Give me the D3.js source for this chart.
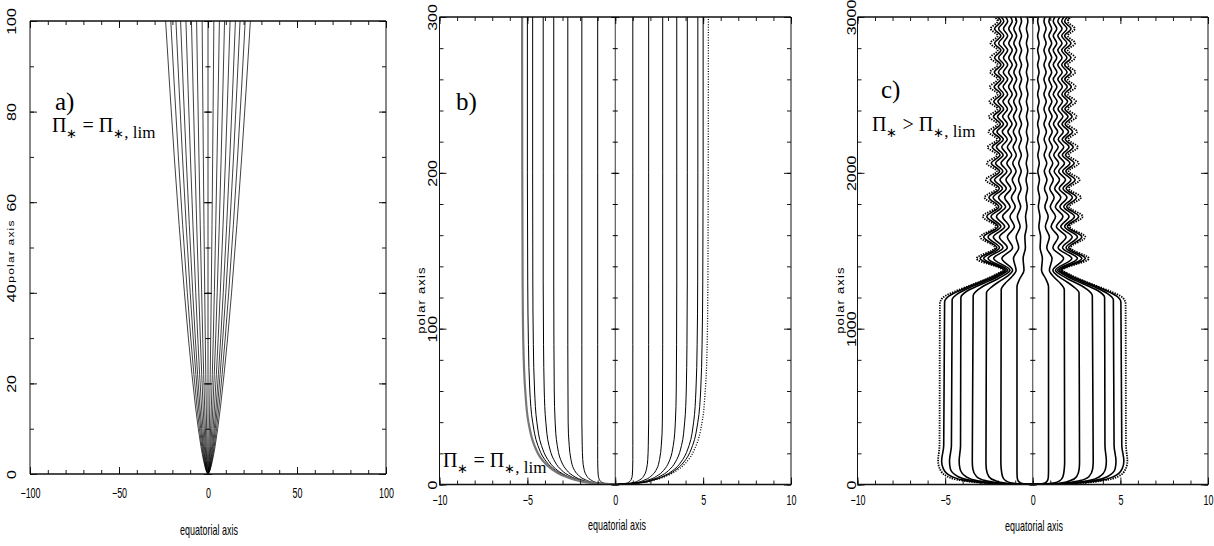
<!DOCTYPE html>
<html>
<head>
<meta charset="utf-8">
<script src="https://cdn.jsdelivr.net/npm/d3@7/dist/d3.min.js"></script>
<style>
html, body { margin: 0; padding: 0; background: #fff; }
svg { display: block; }
</style>
</head>
<body>
<svg id="fig" width="1214" height="546"></svg>
<script>
// ---------------- Panel a: field lines for Pi* = Pi*,lim (wide view) ----------------
const aHeights = [0, 0.5, 1.5, 3, 6, 10, 15, 22, 30, 40, 55, 70, 85, 100];
// half-width of each line (right-hand branch) at the heights above
const aHalfWidths = [
  [0, 0.11, 0.22, 0.35, 0.54, 0.76, 0.98, 1.25, 1.53, 1.83, 2.25, 2.63, 2.97, 3.3],
  [0, 0.22, 0.44, 0.68, 1.06, 1.47, 1.9, 2.43, 2.96, 3.56, 4.36, 5.09, 5.77, 6.4],
  [0, 0.31, 0.63, 0.99, 1.53, 2.13, 2.76, 3.52, 4.31, 5.17, 6.34, 7.4, 8.38, 9.3],
  [0, 0.42, 0.84, 1.31, 2.05, 2.84, 3.68, 4.7, 5.74, 6.89, 8.46, 9.87, 11.17, 12.4],
  [0, 0.52, 1.05, 1.63, 2.54, 3.53, 4.57, 5.84, 7.13, 8.56, 10.5, 12.26, 13.88, 15.4],
  [0, 0.61, 1.22, 1.91, 2.97, 4.12, 5.35, 6.82, 8.33, 10.0, 12.28, 14.33, 16.22, 18],
  [0, 0.7, 1.42, 2.22, 3.45, 4.79, 6.21, 7.92, 9.68, 11.62, 14.25, 16.64, 18.83, 20.9],
  [0, 0.8, 1.62, 2.52, 3.93, 5.45, 7.07, 9.02, 11.02, 13.23, 16.23, 18.94, 21.44, 23.8]
];
const aXTicks = [-100, -50, 0, 50, 100];
const aXTickLabels = ["\u2212100", "\u221250", "0", "50", "100"];
const aYTicks = [0, 20, 40, 60, 80, 100];
const aYTickLabels = ["0", "20", "40", "60", "80", "100"];

// ---------------- Panel b: field lines for Pi* = Pi*,lim (jet core) ----------------
const bHeights = [0, 1, 3, 6, 10, 16, 25, 40, 60, 90, 130, 200, 300];
const bHalfWidths = [
  [0, 0.69, 0.90, 0.97, 0.99, 1.0, 1.0, 1.0, 1.0, 1.0, 1.0, 1.0, 1.0],
  [0, 0.94, 1.40, 1.65, 1.78, 1.85, 1.88, 1.90, 1.9, 1.9, 1.9, 1.9, 1.9],
  [0, 1.08, 1.69, 2.10, 2.36, 2.52, 2.62, 2.68, 2.69, 2.7, 2.7, 2.7, 2.7],
  [0, 1.19, 1.91, 2.45, 2.82, 3.11, 3.30, 3.42, 3.47, 3.49, 3.5, 3.5, 3.5],
  [0, 1.26, 2.05, 2.67, 3.13, 3.50, 3.77, 3.95, 4.04, 4.08, 4.1, 4.1, 4.1],
  [0, 1.32, 2.17, 2.85, 3.39, 3.84, 4.20, 4.46, 4.59, 4.66, 4.69, 4.7, 4.7],
  [0, 1.35, 2.22, 2.94, 3.51, 4.01, 4.40, 4.70, 4.86, 4.94, 4.98, 5.0, 5.0],
  [0, 1.37, 2.27, 3.03, 3.63, 4.17, 4.60, 4.94, 5.12, 5.23, 5.27, 5.29, 5.3]
];
const bXTicks = [-10, -5, 0, 5, 10];
const bXTickLabels = ["\u221210", "\u22125", "0", "5", "10"];
const bYTicks = [0, 100, 200, 300];
const bYTickLabels = ["0", "100", "200", "300"];

// ---------------- Panel c: field lines for Pi* > Pi*,lim ----------------
// lower column and shoulder, as [height, half-width]
const cBaseLines = [
  [[0,0],[3,0.45],[10,0.7],[25,0.84],[50,0.89],[100,0.9],[1270,0.9],[1320,0.74]],
  [[0,0],[3,0.7],[10,1.2],[25,1.55],[50,1.72],[100,1.8],[150,1.82],[1250,1.8],[1290,1.58],[1330,1.22]],
  [[0,0],[3,0.9],[10,1.6],[25,2.15],[50,2.5],[100,2.65],[150,2.67],[1230,2.64],[1270,2.32],[1305,1.88],[1335,1.47]],
  [[0,0],[3,1.1],[10,1.9],[25,2.7],[50,3.2],[100,3.42],[150,3.45],[1210,3.4],[1250,3.12],[1285,2.62],[1315,2.07],[1340,1.67]],
  [[0,0],[3,1.3],[10,2.2],[25,3.2],[50,3.8],[100,4.15],[150,4.2],[250,4.12],[1200,4.1],[1240,3.77],[1275,3.12],[1305,2.52],[1335,1.97],[1357,1.63]],
  [[0,0],[3,1.4],[10,2.4],[25,3.5],[50,4.25],[100,4.7],[150,4.75],[250,4.64],[1185,4.6],[1225,4.27],[1265,3.57],[1300,2.82],[1330,2.22],[1355,1.8]],
  [[0,0],[3,1.5],[10,2.6],[25,3.8],[50,4.6],[100,5.1],[150,5.2],[250,5.08],[1170,5.03],[1210,4.77],[1250,4.07],[1290,3.22],[1325,2.47],[1352,1.95]],
  [[0,0],[3,1.6],[10,2.8],[25,4.0],[50,4.85],[100,5.3],[150,5.4],[250,5.32],[1160,5.3],[1200,5.12],[1240,4.42],[1280,3.52],[1320,2.62],[1350,2.07]]
];
// heights of the inward and outward turning points of the wavy section
const cWaveInY  = [1375, 1520, 1655, 1782, 1900, 2010, 2114, 2215, 2313, 2410, 2505, 2600, 2693, 2786, 2879, 2972];
const cWaveOutY = [1450, 1588, 1720, 1842, 1955, 2062, 2165, 2264, 2361, 2457, 2552, 2646, 2739, 2832, 2925, 3018];
// half-widths at the inward turning points, one row per line
const cWaveIn = [
  [0.5, 0.42, 0.35, 0.32, 0.3, 0.29, 0.29, 0.28, 0.28, 0.28, 0.28, 0.28, 0.28, 0.28, 0.28, 0.28],
  [0.95, 0.8, 0.72, 0.69, 0.67, 0.66, 0.65, 0.65, 0.64, 0.64, 0.64, 0.64, 0.64, 0.64, 0.64, 0.64],
  [1.15, 1.15, 1.05, 1.0, 0.97, 0.95, 0.94, 0.93, 0.93, 0.92, 0.92, 0.92, 0.92, 0.92, 0.92, 0.92],
  [1.3, 1.45, 1.35, 1.29, 1.25, 1.22, 1.2, 1.19, 1.18, 1.18, 1.17, 1.17, 1.17, 1.17, 1.17, 1.17],
  [1.42, 1.7, 1.6, 1.55, 1.51, 1.48, 1.46, 1.45, 1.44, 1.44, 1.43, 1.43, 1.43, 1.43, 1.43, 1.43],
  [1.52, 1.9, 1.82, 1.77, 1.73, 1.71, 1.69, 1.68, 1.67, 1.66, 1.66, 1.65, 1.65, 1.65, 1.65, 1.65],
  [1.62, 2.05, 1.98, 1.94, 1.91, 1.89, 1.87, 1.86, 1.85, 1.84, 1.83, 1.83, 1.82, 1.82, 1.82, 1.82],
  [1.72, 2.15, 2.1, 2.08, 2.06, 2.05, 2.04, 2.03, 2.02, 2.01, 2.0, 2.0, 2.0, 2.0, 2.0, 2.0]
];
// half-widths at the outward turning points
const cWaveOut = [
  [0.55, 0.45, 0.41, 0.39, 0.38, 0.37, 0.37, 0.36, 0.36, 0.36, 0.36, 0.36, 0.36, 0.36, 0.36, 0.36],
  [1.1, 0.95, 0.88, 0.84, 0.81, 0.8, 0.79, 0.78, 0.77, 0.77, 0.76, 0.76, 0.76, 0.76, 0.76, 0.76],
  [1.76, 1.45, 1.3, 1.22, 1.17, 1.14, 1.12, 1.11, 1.1, 1.09, 1.09, 1.08, 1.08, 1.08, 1.08, 1.08],
  [2.23, 1.9, 1.72, 1.6, 1.53, 1.48, 1.45, 1.42, 1.4, 1.39, 1.38, 1.38, 1.37, 1.37, 1.37, 1.37],
  [2.55, 2.25, 2.07, 1.95, 1.87, 1.81, 1.77, 1.74, 1.72, 1.7, 1.69, 1.68, 1.67, 1.67, 1.67, 1.67],
  [2.8, 2.55, 2.38, 2.26, 2.18, 2.12, 2.07, 2.04, 2.01, 1.99, 1.97, 1.96, 1.95, 1.95, 1.95, 1.95],
  [3.0, 2.8, 2.62, 2.5, 2.42, 2.36, 2.31, 2.27, 2.24, 2.22, 2.2, 2.19, 2.18, 2.18, 2.18, 2.18],
  [3.2, 3.0, 2.85, 2.75, 2.68, 2.62, 2.57, 2.53, 2.5, 2.47, 2.45, 2.43, 2.42, 2.41, 2.4, 2.4]
];
const cXTicks = [-10, -5, 0, 5, 10];
const cXTickLabels = ["\u221210", "\u22125", "0", "5", "10"];
const cYTicks = [0, 1000, 2000, 3000];
const cYTickLabels = ["0", "1000", "2000", "3000"];

// ---------------- drawing ----------------
const svg = d3.select("#fig");
const defs = svg.append("defs");
const AXIS_FONT = "'Liberation Sans', Arial, Helvetica, sans-serif";
const SERIF = "'Liberation Serif', 'Times New Roman', serif";
const SQUEEZE = 0.64;    // horizontal lettering on the axes is condensed
const ROT_SQUEEZE = 0.8; // rotated lettering on the axes

function linePoints(heights, widths) {
  return heights.map((h, i) => [h, widths[i]]);
}

function wavePoints(k) {
  const pts = cBaseLines[k].slice();
  for (let i = 0; i < cWaveInY.length; i++) {
    pts.push([cWaveInY[i], cWaveIn[k][i]]);
    pts.push([cWaveOutY[i], cWaveOut[k][i]]);
  }
  return pts;
}

function drawPanel(p) {
  const x = d3.scaleLinear().domain(p.xDomain).range([p.box.left, p.box.right]);
  const y = d3.scaleLinear().domain(p.yDomain).range([p.box.bottom, p.box.top]);
  const g = svg.append("g").attr("class", "panel-" + p.id);

  const clipId = "clip-" + p.id;
  defs.append("clipPath").attr("id", clipId).append("rect")
    .attr("x", p.box.left).attr("y", p.box.top)
    .attr("width", p.box.right - p.box.left).attr("height", p.box.bottom - p.box.top);

  const plot = g.append("g").attr("clip-path", `url(#${clipId})`);

  // field lines, drawn as mirrored pairs
  p.lines.forEach((ln, k) => {
    [-1, 1].forEach(side => {
      const st = p.style(k, side);
      const gen = d3.line()
        .x(d => x(side * d[1]))
        .y(d => y(d[0]))
        .curve(d3.curveMonotoneY);
      plot.append("path")
        .datum(ln)
        .attr("d", gen)
        .attr("fill", "none")
        .attr("stroke", st.color)
        .attr("stroke-width", st.width)
        .attr("stroke-dasharray", st.dash || null)
        .attr("stroke-linejoin", "round");
    });
  });

  // central (polar) axis with ticks on both sides
  g.append("line")
    .attr("x1", x(0)).attr("x2", x(0))
    .attr("y1", y(p.yDomain[0])).attr("y2", y(p.yDomain[1]))
    .attr("stroke", "#222").attr("stroke-width", 0.9);
  const minorY = d3.range(p.yDomain[0], p.yDomain[1] + 1e-9, p.yMinor);
  const minorX = d3.range(p.xDomain[0], p.xDomain[1] + 1e-9, p.xMinor);
  g.append("g").attr("transform", `translate(${x(0) + 2.5},0)`)
    .call(d3.axisLeft(y).tickValues(minorY).tickSize(5).tickFormat(""))
    .call(s => s.select(".domain").remove());
  g.append("g").attr("transform", `translate(${x(0) + 4},0)`)
    .call(d3.axisLeft(y).tickValues(p.yTicks).tickSize(8).tickFormat(""))
    .call(s => s.select(".domain").remove());

  // inward ticks on all four sides
  const L = p.box.left, R = p.box.right, T = p.box.top, B = p.box.bottom;
  const minorLen = 4, majorLen = 7;
  const ax = [
    [d3.axisBottom(x).tickValues(minorX).tickSize(-minorLen), `translate(0,${B})`],
    [d3.axisTop(x).tickValues(minorX).tickSize(-minorLen), `translate(0,${T})`],
    [d3.axisLeft(y).tickValues(minorY).tickSize(-minorLen), `translate(${L},0)`],
    [d3.axisRight(y).tickValues(minorY).tickSize(-minorLen), `translate(${R},0)`],
    [d3.axisTop(x).tickValues(p.xTicks).tickSize(-majorLen), `translate(0,${T})`],
    [d3.axisRight(y).tickValues(p.yTicks).tickSize(-majorLen), `translate(${R},0)`]
  ];
  ax.forEach(([a, tr]) => {
    g.append("g").attr("transform", tr)
      .call(a.tickFormat(""))
      .call(s => s.select(".domain").remove())
      .selectAll("line").attr("stroke-width", 0.9);
  });

  // labelled bottom axis
  const xb = g.append("g").attr("transform", `translate(0,${B})`)
    .call(d3.axisBottom(x).tickValues(p.xTicks).tickSize(-majorLen)
      .tickPadding(p.xLabelPad).tickFormat((d, i) => p.xTickLabels[i]))
    .call(s => s.select(".domain").remove());
  xb.attr("font-family", AXIS_FONT).attr("font-size", 14);
  xb.selectAll("line").attr("stroke-width", 0.9);
  xb.selectAll("text").attr("fill", "#000")
    .attr("transform", `scale(${SQUEEZE},1)`);

  // labelled left axis (rotated numbers)
  const yl = g.append("g").attr("transform", `translate(${L},0)`)
    .call(d3.axisLeft(y).tickValues(p.yTicks).tickSize(-majorLen)
      .tickFormat((d, i) => p.yTickLabels[i]))
    .call(s => s.select(".domain").remove());
  yl.attr("font-family", AXIS_FONT).attr("font-size", 16);
  yl.selectAll("line").attr("stroke-width", 0.9);
  yl.selectAll("text").attr("fill", "#000")
    .attr("x", 0).attr("dy", "0.36em").attr("text-anchor", "middle")
    .attr("transform", `translate(${-p.yLabelOff},0) scale(${ROT_SQUEEZE},1) rotate(-90)`);

  // frame
  const frame = g.append("g").attr("stroke", "#111");
  frame.append("line").attr("x1", L).attr("x2", R).attr("y1", B).attr("y2", B).attr("stroke-width", 1.7);
  frame.append("line").attr("x1", L).attr("x2", R).attr("y1", T).attr("y2", T).attr("stroke-width", 1.7);
  frame.append("line").attr("x1", L).attr("x2", L).attr("y1", T).attr("y2", B).attr("stroke-width", 1);
  frame.append("line").attr("x1", R).attr("x2", R).attr("y1", T).attr("y2", B).attr("stroke-width", 1);

  // axis titles
  g.append("text")
    .attr("transform", `translate(${p.xTitle[0]},${p.xTitle[1]}) scale(${SQUEEZE},1)`)
    .attr("text-anchor", "middle")
    .attr("font-family", AXIS_FONT).attr("font-size", 14)
    .text("equatorial axis");
  g.append("text")
    .attr("transform", `translate(${p.yTitle[0]},${p.yTitle[1]}) scale(${ROT_SQUEEZE},1) rotate(-90)`)
    .attr("text-anchor", "middle").attr("dy", "0.36em")
    .attr("font-family", AXIS_FONT).attr("font-size", p.yTitleSize)
    .attr("letter-spacing", 1.2)
    .text("polar axis");

  // panel letter
  g.append("text")
    .attr("x", p.letterPos[0]).attr("y", p.letterPos[1])
    .attr("font-family", SERIF).attr("font-size", 25)
    .text(p.letter);

  // condition label
  const t = g.append("text")
    .attr("x", p.condPos[0]).attr("y", p.condPos[1])
    .attr("font-family", SERIF).attr("font-size", 20);
  t.append("tspan").text("\u03A0");
  t.append("tspan").attr("dy", 6).attr("font-size", 13).text("\u2217");
  t.append("tspan").attr("dy", -6).text(" " + p.relation + " \u03A0");
  t.append("tspan").attr("dy", 6).attr("font-size", 13).text("\u2217");
  t.append("tspan").attr("font-size", 17).text(", lim");
}

drawPanel({
  id: "a",
  box: { left: 30, right: 386, top: 21, bottom: 474 },
  xDomain: [-100, 100], yDomain: [0, 100],
  xMinor: 10, yMinor: 10,
  xTicks: aXTicks, xTickLabels: aXTickLabels,
  yTicks: aYTicks, yTickLabels: aYTickLabels,
  xLabelPad: 14, yLabelOff: 19,
  lines: aHalfWidths.map(w => linePoints(aHeights, w)),
  style: () => ({ color: "#000", width: 0.75 }),
  xTitle: [209, 535], yTitle: [11, 251], yTitleSize: 12,
  letter: "a)", letterPos: [55, 110],
  relation: "=", condPos: [52, 132]
});

drawPanel({
  id: "b",
  box: { left: 439.5, right: 791, top: 17, bottom: 484.5 },
  xDomain: [-10, 10], yDomain: [0, 300],
  xMinor: 1, yMinor: 20,
  xTicks: bXTicks, xTickLabels: bXTickLabels,
  yTicks: bYTicks, yTickLabels: bYTickLabels,
  xLabelPad: 10.5, yLabelOff: 7.5,
  lines: bHalfWidths.map(w => linePoints(bHeights, w)),
  style: (k, side) => {
    if (k === bHalfWidths.length - 1) {
      return side > 0 ? { color: "#000", width: 1.3, dash: "1,1.6" } : { color: "#777", width: 2.2 };
    }
    return { color: "#000", width: 1 };
  },
  xTitle: [617, 530], yTitle: [421, 300], yTitleSize: 13,
  letter: "b)", letterPos: [456, 110],
  relation: "=", condPos: [443, 467]
});

drawPanel({
  id: "c",
  box: { left: 857.5, right: 1208, top: 17, bottom: 484.5 },
  xDomain: [-10, 10], yDomain: [0, 3000],
  xMinor: 1, yMinor: 200,
  xTicks: cXTicks, xTickLabels: cXTickLabels,
  yTicks: cYTicks, yTickLabels: cYTickLabels,
  xLabelPad: 10.5, yLabelOff: 6.5,
  lines: cBaseLines.map((_, k) => wavePoints(k)),
  style: (k) => k === cBaseLines.length - 1
    ? { color: "#000", width: 1.8, dash: "1.4,1.1" }
    : { color: "#000", width: 1.6 },
  xTitle: [1034, 531], yTitle: [840, 300], yTitleSize: 13,
  letter: "c)", letterPos: [881, 98],
  relation: ">", condPos: [872, 131]
});
</script>
</body>
</html>
